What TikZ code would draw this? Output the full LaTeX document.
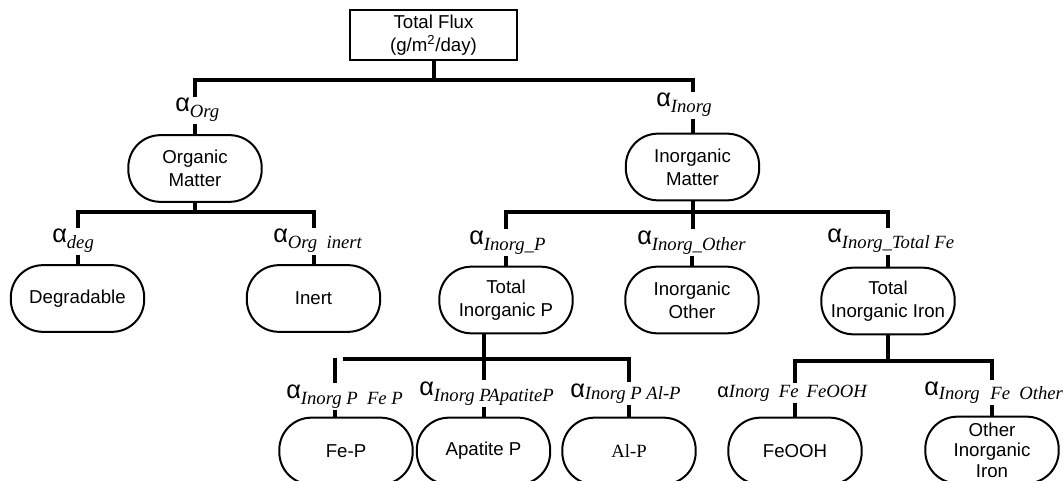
\documentclass[tikz,border=0pt]{standalone}
\usepackage{fontspec}
\setmainfont{Liberation Sans}
\newfontfamily\timesfont{Liberation Serif}
\usepackage{tikz}
\usetikzlibrary{calc}

\newcommand{\alphacoef}[2][4.5pt]{{\fontsize{19}{19}\selectfont α}\raisebox{-#1}{\timesfont\itshape\fontsize{14}{14}\selectfont #2}}

\begin{document}
\begin{tikzpicture}[x=0.75pt,y=-0.75pt,
  box/.style={draw,line width=1.5pt,rounded corners=24pt,minimum width=100pt,minimum height=50pt,align=center,font=\fontsize{14}{17}\selectfont},
  fluxbox/.style={draw,line width=1.8pt,minimum width=125pt,minimum height=37.5pt,align=center,font=\fontsize{14}{17}\selectfont},
  coef/.style={anchor=base west,inner xsep=0pt,inner ysep=1pt},
  bar/.style={line width=3pt}]
\useasboundingbox (0,0) rectangle (1064,481);

\node[fluxbox] (flux) at (433.5,35) {Total Flux\\(g/m\textsuperscript{2}/day)};
\node[box] (org) at (195,168.5) {Organic\\Matter};
\node[box] (inorg) at (692.5,167) {Inorganic\\Matter};
\node[box] (deg) at (77.5,298.5) {Degradable};
\node[box] (inert) at (313.5,298.5) {Inert};
\node[box] (tip) at (506,300) {Total\\Inorganic P};
\node[box] (iother) at (692,300) {Inorganic\\Other};
\node[box] (tiron) at (888,301) {Total\\Inorganic Iron};
\node[box] (fep) at (346,451) {Fe-P};
\node[box] (apatite) at (483.5,451) {Apatite P};
\node[box] (alp) at (629,451) {\timesfont Al-P};
\node[box] (feooh) at (795,451) {FeOOH};
\node[box,font=\fontsize{14}{15.5}\selectfont] (oiron) at (992,450) {Other\\Inorganic\\Iron};

\node[coef] (aorg) at (175,112) {\alphacoef{Org}};
\node[coef] (ainorg) at (656,107) {\alphacoef{Inorg}};
\node[coef] (adeg) at (52,243) {\alphacoef{deg}};
\node[coef] (ainert) at (273,243) {\alphacoef{Org\enspace inert}};
\node[coef] (aip) at (469,244) {\alphacoef{Inorg\_P}};
\node[coef] (aiother) at (637,244) {\alphacoef{Inorg\_Other}};
\node[coef] (aitfe) at (827,243) {\alphacoef{Inorg\_Total Fe}};
\node[coef] (aifep) at (286,398) {\alphacoef{Inorg P\enspace Fe P}};
\node[coef] (aiapa) at (419,395) {\alphacoef{Inorg PApatiteP}};
\node[coef] (aialp) at (570,397) {\alphacoef[2pt]{Inorg P Al-P}};
\node[coef] (aifeooh) at (717,397) {{\fontsize{15}{15}\selectfont α}{\timesfont\itshape\fontsize{14}{14}\selectfont Inorg\hspace{7pt}Fe\hspace{6pt}FeOOH}};
\node[coef] (aifeoth) at (924,395) {\alphacoef[3pt]{Inorg\hspace{8pt}Fe\hspace{7pt}Other}};

\coordinate (lvl0) at (0,80);
\coordinate (lvl1) at (0,212);
\coordinate (lvlfe) at (0,361);
\coordinate (pbar) at (343,359);
\coordinate (fepline) at (335,357.5);

\draw[bar] (flux.south) -- (flux.south |- lvl0);
\draw[bar] (aorg.north -| org.north) -- (org.north |- lvl0) -- (inorg.north |- lvl0) -- (ainorg.north -| inorg.north);
\draw[bar] (aorg.south -| org.north) -- (org.north);
\draw[bar] (ainorg.south -| inorg.north) -- (inorg.north);

\draw[bar] (org.south) -- (org.south |- lvl1);
\draw[bar] (adeg.north -| deg.north) -- (deg.north |- lvl1) -- (inert.north |- lvl1) -- (ainert.north -| inert.north);
\draw[bar] (adeg.south -| deg.north) -- (deg.north);
\draw[bar] (ainert.south -| inert.north) -- (inert.north);

\draw[bar] (inorg.south) -- (aiother.north -| inorg.south);
\draw[bar] (aip.north -| tip.north) -- (tip.north |- lvl1) -- (tiron.north |- lvl1) -- (aitfe.north -| tiron.north);
\draw[bar] (aip.south -| tip.north) -- (tip.north);
\draw[bar] (aiother.south -| iother.north) -- (iother.north);
\draw[bar] (aitfe.south -| tiron.north) -- (tiron.north);

\draw[bar] (tip.south -| apatite.north) -- (aiapa.north -| apatite.north);
\draw[bar] (pbar) -- (alp.north |- pbar) -- (aialp.north -| alp.north);
\draw[bar] (fepline) -- (aifep.north -| fepline);
\draw[bar] (aifep.south -| fepline) -- (fep.north -| fepline);
\draw[bar] (aiapa.south -| apatite.north) -- (apatite.north);
\draw[bar] (aialp.south -| alp.north) -- (alp.north);

\draw[bar] (tiron.south) -- (tiron.south |- lvlfe);
\draw[bar] (aifeooh.north -| feooh.north) -- (feooh.north |- lvlfe) -- (oiron.north |- lvlfe) -- (aifeoth.north -| oiron.north);
\draw[bar] (aifeooh.south -| feooh.north) -- (feooh.north);
\draw[bar] (aifeoth.south -| oiron.north) -- (oiron.north);
\end{tikzpicture}
\end{document}
